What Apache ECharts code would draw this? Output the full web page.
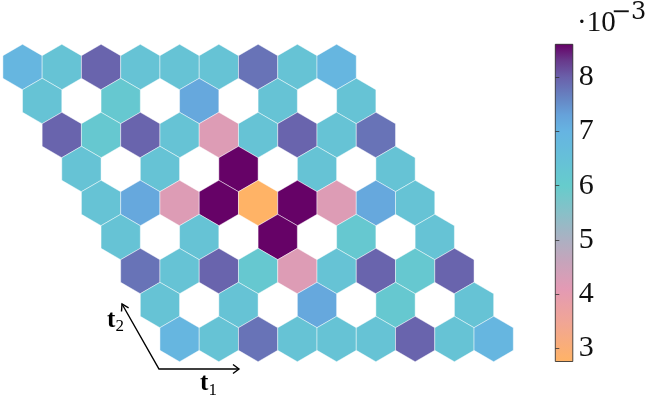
<!DOCTYPE html>
<html>
<head>
<meta charset="utf-8">
<script src="https://cdn.jsdelivr.net/npm/echarts@6/dist/echarts.min.js"></script>
<style>
  html, body { margin: 0; padding: 0; background: #fff; }
  #chart { width: 657px; height: 401px; }
</style>
</head>
<body>
<div id="chart"></div>
<script>
// hexagon values (x 1e-3), one array per lattice row, null = empty site
const row0 = [6.9, 6.4, 7.95, 6.4, 6.4, 6.4, 7.8, 6.4, 6.9];
const row1 = [6.4, null, 6.15, null, 7.2, null, 6.4, null, 6.4];
const row2 = [7.95, 6.15, 7.95, 6.4, 4.2, 6.4, 7.95, 6.4, 7.8];
const row3 = [6.4, null, 6.4, null, 8.6, null, 6.4, null, 6.4];
const row4 = [6.4, 7.2, 4.2, 8.6, 2.76, 8.6, 4.2, 7.2, 6.4];
const row5 = [6.4, null, 6.4, null, 8.6, null, 6.15, null, 6.4];
const row6 = [7.8, 6.4, 7.95, 6.15, 4.2, 6.4, 7.95, 6.15, 7.95];
const row7 = [6.4, null, 6.4, null, 7.2, null, 6.15, null, 6.4];
const row8 = [6.9, 6.4, 7.8, 6.4, 6.4, 6.4, 7.95, 6.4, 6.9];
const rows = [row0, row1, row2, row3, row4, row5, row6, row7, row8];

// colour scale
const vMin = 2.755;
const vMax = 8.61;
const colorTicks = [3, 4, 5, 6, 7, 8];

// colormap anchors: value -> colour
const cmapValues = [2.755, 3.5, 4.1, 4.6, 5.0, 5.5, 6.0, 6.5, 7.0, 7.3, 7.6, 8.0, 8.3, 8.61];
const cmapColors = ['#ffb366', '#f0a596', '#e39ab4', '#c6a4bb', '#acb0c2', '#88c0c8', '#66cccc',
  '#66c0d8', '#66b4e2', '#66a2da', '#6686c4', '#6a60aa', '#683a8c', '#660066'];

function hexToRgb(h) {
  return [parseInt(h.slice(1, 3), 16), parseInt(h.slice(3, 5), 16), parseInt(h.slice(5, 7), 16)];
}
function cmap(v) {
  let i = 0;
  while (i < cmapValues.length - 2 && v > cmapValues[i + 1]) i++;
  const t = Math.max(0, Math.min(1, (v - cmapValues[i]) / (cmapValues[i + 1] - cmapValues[i])));
  const a = hexToRgb(cmapColors[i]), b = hexToRgb(cmapColors[i + 1]);
  const c = a.map((x, k) => Math.round(x + (b[k] - x) * t));
  return 'rgb(' + c.join(',') + ')';
}

// evenly spaced colours for the visualMap
const steps = 80;
const rangeColors = [];
for (let i = 0; i < steps; i++) rangeColors.push(cmap(vMin + (vMax - vMin) * i / (steps - 1)));
const gradStops = cmapValues.map((v, i) => ({ offset: (vMax - v) / (vMax - vMin), color: cmapColors[i] })).reverse();

// lattice data: x = col + row/2, y = row
const hexData = [];
rows.forEach((vals, r) => {
  vals.forEach((v, c) => {
    if (v !== null) hexData.push([c + r / 2, r, v]);
  });
});

const chart = echarts.init(document.getElementById('chart'));

const option = {
  animation: false,
  backgroundColor: '#fff',
  grid: [
    { left: 2.9, top: 44.3, width: 510.4, height: 317.4 },
    {
      left: 555.3, top: 44.3, width: 17.5, height: 317.2, show: true,
      backgroundColor: new echarts.graphic.LinearGradient(0, 0, 0, 1, gradStops),
      borderColor: '#222', borderWidth: 0.8
    }
  ],
  xAxis: [
    { type: 'value', gridIndex: 0, min: -0.5, max: 12.5, show: false },
    { type: 'value', gridIndex: 1, min: 0, max: 1, show: false }
  ],
  yAxis: [
    { type: 'value', gridIndex: 0, min: -2 / 3, max: 8 + 2 / 3, inverse: true, show: false },
    {
      type: 'value', gridIndex: 1, min: vMin, max: vMax, position: 'right',
      axisLine: { show: false },
      splitLine: { show: false },
      axisTick: { show: true, customValues: colorTicks, length: 4, lineStyle: { color: '#333', width: 0.8 } },
      axisLabel: {
        customValues: colorTicks, margin: 6, color: '#111',
        fontFamily: '"Liberation Serif", serif', fontSize: 30
      }
    }
  ],
  visualMap: {
    show: false, type: 'continuous', seriesIndex: 0, dimension: 2,
    min: vMin, max: vMax, inRange: { color: rangeColors }
  },
  series: [
    {
      type: 'custom',
      xAxisIndex: 0, yAxisIndex: 0,
      data: hexData,
      renderItem: function (params, api) {
        const x = api.value(0), r = api.value(1);
        const pts = [
          [x, r - 2 / 3], [x + 0.5, r - 1 / 3], [x + 0.5, r + 1 / 3],
          [x, r + 2 / 3], [x - 0.5, r + 1 / 3], [x - 0.5, r - 1 / 3]
        ].map(p => api.coord(p));
        return {
          type: 'polygon',
          shape: { points: pts },
          style: { fill: api.visual('color'), stroke: 'rgba(255,255,255,0.75)', lineWidth: 0.6 }
        };
      }
    },
    { type: 'line', xAxisIndex: 1, yAxisIndex: 1, data: [] }
  ],
  graphic: [
    // offset text of the colorbar
    { type: 'text', left: 577, top: 9, style: { text: '·10', font: '29px "Liberation Serif"', fill: '#111' } },
    { type: 'text', left: 611, top: 1, style: { text: '−3', font: '24px "DejaVu Serif"', fill: '#111' } },
    // lattice vectors
    {
      type: 'polyline', shape: { points: [[122, 304], [159, 369], [239, 369]] },
      style: { stroke: '#000', lineWidth: 1.4, fill: null }
    },
    {
      type: 'polyline', shape: { points: [[233, 364.5], [239, 369], [233, 373.5]] },
      style: { stroke: '#000', lineWidth: 1.4, fill: null }
    },
    {
      type: 'polyline', shape: { points: [[121.5, 311.5], [122, 304], [128.6, 307.8]] },
      style: { stroke: '#000', lineWidth: 1.4, fill: null }
    },
    { type: 'text', x: 200, y: 384, style: { text: 't', font: 'bold 25px "Liberation Serif"', fill: '#000', verticalAlign: 'middle' } },
    { type: 'text', x: 208.5, y: 391, style: { text: '1', font: '17px "Liberation Serif"', fill: '#000', verticalAlign: 'middle' } },
    { type: 'text', x: 107, y: 321, style: { text: 't', font: 'bold 25px "Liberation Serif"', fill: '#000', verticalAlign: 'middle' } },
    { type: 'text', x: 115.5, y: 327, style: { text: '2', font: '17px "Liberation Serif"', fill: '#000', verticalAlign: 'middle' } }
  ]
};

chart.setOption(option);
</script>
</body>
</html>
